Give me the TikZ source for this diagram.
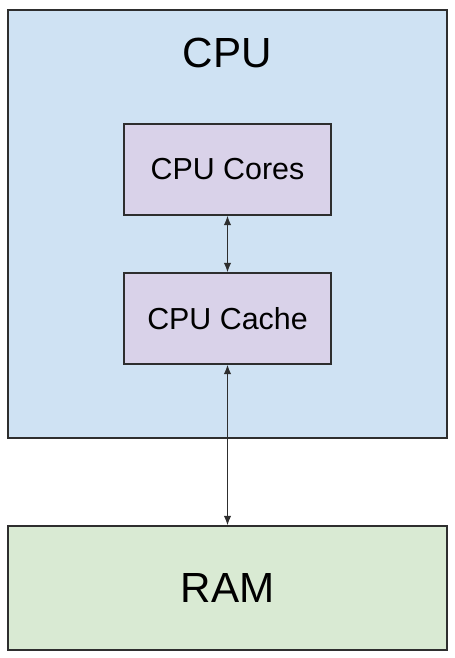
\documentclass[tikz,border=0pt]{standalone}
\usepackage{fontspec}
\setmainfont{Liberation Sans}
\usetikzlibrary{arrows.meta,positioning}
\definecolor{Edge}{HTML}{2E2E2E}
\definecolor{CpuBlue}{HTML}{CFE2F3}
\definecolor{Lilac}{HTML}{D9D2E9}
\definecolor{Mint}{HTML}{D9EAD3}
\tikzset{
 unit/.style={draw=Edge,line width=0.8pt,minimum width=8.78cm,inner sep=0pt},
 part/.style={draw=Edge,line width=0.8pt,fill=Lilac,minimum width=4.14cm,minimum height=1.82cm,inner sep=0pt,font=\fontsize{17.3}{20}\selectfont},
 link/.style={{Latex[length=1.9mm,width=1.5mm]}-{Latex[length=1.9mm,width=1.5mm]},line width=0.75pt,draw=Edge}
}
\begin{document}
\begin{tikzpicture}[x=0.02cm,y=-0.02cm]
\useasboundingbox (0,0) rectangle (454,658);
% CPU package
\node[unit,fill=CpuBlue,minimum height=8.56cm] (cpu) at (227.5,224) {};
\node[anchor=base,font=\fontsize{24}{28}\selectfont] (title) at (227.5,68) {CPU};
\node[part] (cores) at (227.5,169.5) {CPU Cores};
\node[part] (cache) at (227.5,318.5) {CPU Cache};
% main memory
\node[unit,fill=Mint,minimum height=2.48cm,font=\fontsize{24}{28}\selectfont] (ram) at (227.5,588) {RAM};
\draw[link] (cores) -- (cache);
\draw[link] (cache) -- (ram);
\end{tikzpicture}
\end{document}
